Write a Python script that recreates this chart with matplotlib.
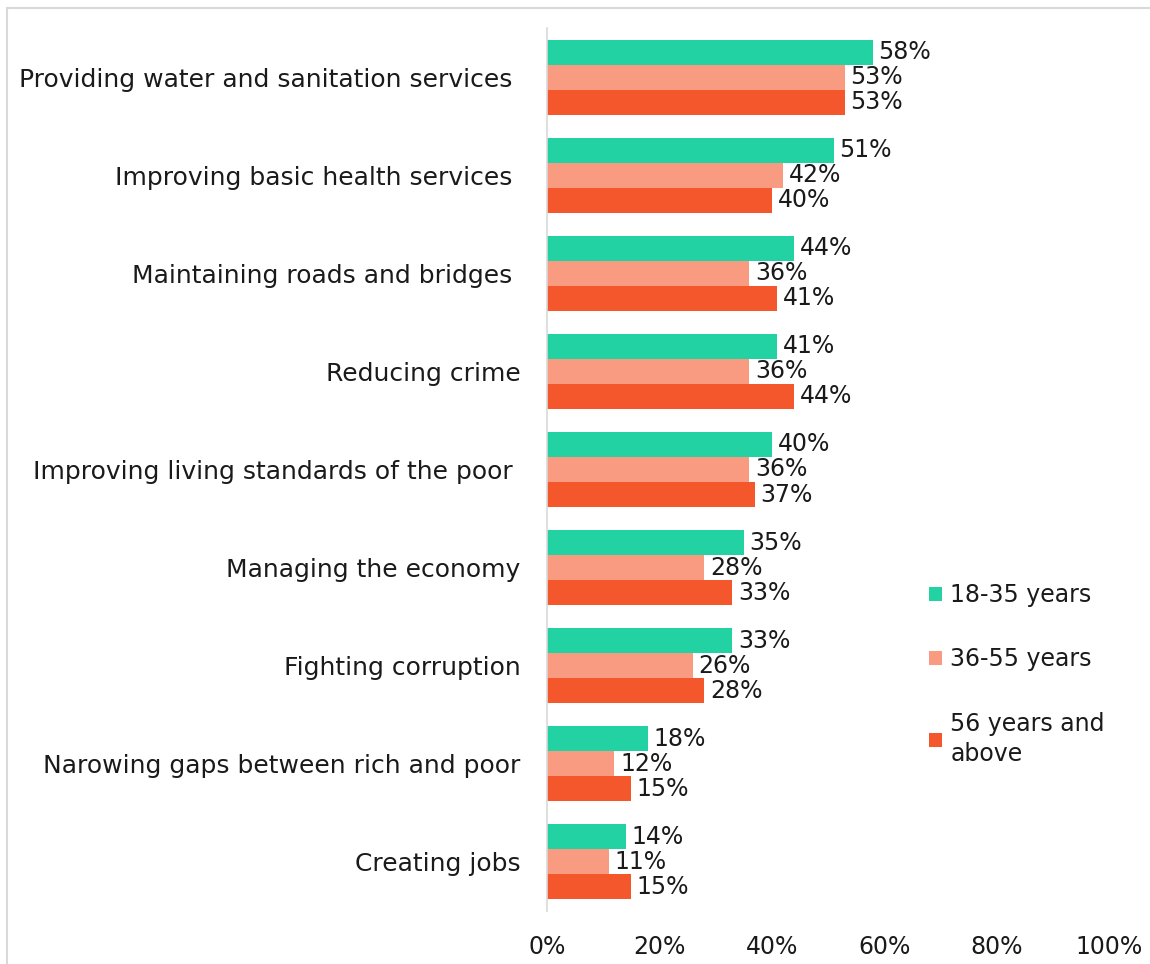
import matplotlib
matplotlib.use("Agg")
import matplotlib.pyplot as plt
import numpy as np
from matplotlib.patches import Rectangle

categories = [
    "Providing water and sanitation services ",
    "Improving basic health services ",
    "Maintaining roads and bridges ",
    "Reducing crime",
    "Improving living standards of the poor ",
    "Managing the economy",
    "Fighting corruption",
    "Narowing gaps between rich and poor",
    "Creating jobs",
]
series_names = ["18-35 years", "36-55 years", "56 years and\nabove"]
young = [58, 51, 44, 41, 40, 35, 33, 18, 14]
middle = [53, 42, 36, 36, 36, 28, 26, 12, 11]
old = [53, 40, 41, 44, 37, 33, 28, 15, 15]
colors = ["#23D2A2", "#F89B81", "#F3572B"]
xticks = [0, 20, 40, 60, 80, 100]

plt.rcParams['font.family'] = ['DejaVu Sans']
fig = plt.figure(figsize=(11.5, 9.64), dpi=100)
ax = fig.add_axes([547/1150, 1-911/964, (1109-547)/1150, (911-28)/964])

n = len(categories)
y = np.arange(n)
h = 0.255
for i, (vals, col, name) in enumerate(zip([young, middle, old], colors, series_names)):
    pos = y + (i - 1) * h
    ax.barh(pos, vals, height=h, color=col, label=name)
    for p, v in zip(pos, vals):
        ax.text(v + 1.0, p, f"{v}%", va="center", ha="left", fontsize=17, color="#1a1a1a")

ax.set_ylim(n - 0.5, -0.5)
ax.set_xlim(0, 100)
ax.set_yticks(y)
ax.set_yticklabels(categories, fontsize=18, color="#1a1a1a")
ax.set_xticks(xticks)
ax.set_xticklabels([f"{t}%" for t in xticks], fontsize=17, color="#1a1a1a")
ax.tick_params(axis="y", length=0, pad=19)
ax.tick_params(axis="x", length=0, pad=17)
for s in ["top", "right", "bottom"]:
    ax.spines[s].set_visible(False)
ax.spines["left"].set_color("#D9D9D9")
ax.spines["left"].set_linewidth(1.2)

leg = fig.legend(loc="upper left", bbox_to_anchor=(908/1150, 1-562/964), frameon=False,
                 fontsize=17, handlelength=0.55, handleheight=0.55, handletextpad=0.35,
                 labelspacing=1.7)
for t in leg.get_texts():
    t.set_color("#1a1a1a")
    t.set_linespacing(1.35)

fig.patches.append(Rectangle((7/1150, -0.01), 1.0, 1 - 8/964 + 0.01, transform=fig.transFigure,
                             fill=False, edgecolor="#D9D9D9", linewidth=1.5))

fig.savefig("out.png", dpi=100, facecolor="white")
